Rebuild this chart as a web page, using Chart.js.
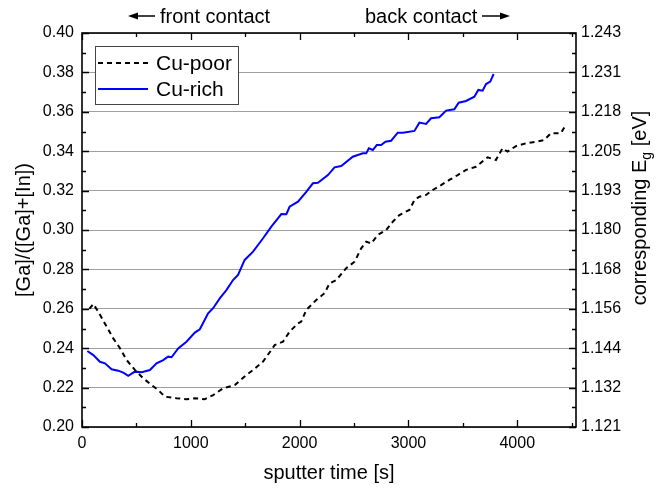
<!DOCTYPE html>
<html>
<head>
<meta charset="utf-8">
<script src="https://cdn.jsdelivr.net/npm/chart.js@4/dist/chart.umd.min.js"></script>
<style>
  html, body { margin: 0; padding: 0; background: #fff; }
  #c { display: block; }
</style>
</head>
<body>
<canvas id="c" width="664" height="488"></canvas>
<script>
// sputter time [s] and [Ga]/([Ga]+[In])
const poorTime = [67,104,150,226,287,349,410,486,563,639,700,761,868,960,1037,1128,1205,1296,1404,1511,1572,1664,1740,1771,1847,1908,1985,2015,2061,2153,2229,2275,2337,2428,2505,2566,2612,2658,2719,2795,2856,2917,3009,3055,3101,3162,3223,3300,3376,3453,3529,3621,3728,3804,3865,3911,3988,4079,4171,4248,4309,4401,4446];
const poorGGI = [0.260,0.2624,0.2585,0.251,0.245,0.240,0.234,0.229,0.2247,0.2213,0.2188,0.2154,0.2146,0.2141,0.2146,0.2141,0.2162,0.2196,0.2213,0.2264,0.2289,0.2332,0.2391,0.2416,0.2433,0.2484,0.2526,0.2535,0.2594,0.2645,0.2679,0.2729,0.2746,0.2806,0.2839,0.2907,0.2941,0.2932,0.2975,0.3000,0.3042,0.3076,0.3102,0.3152,0.3169,0.3178,0.3203,0.3228,0.3254,0.3279,0.3305,0.3321,0.3369,0.3355,0.3415,0.3398,0.3426,0.3440,0.3448,0.3457,0.3491,0.3491,0.3533];
const richTime = [49,104,165,211,272,333,379,425,486,548,624,685,746,792,823,884,960,1037,1083,1159,1205,1266,1327,1388,1434,1495,1572,1664,1740,1832,1878,1908,1985,2061,2122,2168,2260,2321,2382,2489,2581,2612,2636,2673,2709,2749,2789,2841,2902,2950,3055,3101,3162,3208,3284,3346,3422,3462,3529,3606,3642,3682,3713,3752,3783];
const richGGI = [0.2386,0.2365,0.2331,0.2323,0.2293,0.2286,0.2276,0.2260,0.2281,0.2278,0.2289,0.2323,0.2340,0.2357,0.2354,0.2399,0.2433,0.2479,0.2496,0.2577,0.2603,0.2653,0.2695,0.2746,0.2772,0.2848,0.2890,0.2958,0.3017,0.3081,0.3080,0.3118,0.3144,0.3194,0.3237,0.3240,0.3279,0.3318,0.3325,0.3372,0.3389,0.3389,0.3415,0.3406,0.3431,0.3431,0.3448,0.3453,0.3494,0.3494,0.3503,0.3545,0.3538,0.3567,0.3572,0.3606,0.3613,0.3646,0.3655,0.3677,0.3711,0.3707,0.3741,0.3753,0.3792];
const seriesNames = ['Cu-poor', 'Cu-rich'];
const timeTicks = [0, 1000, 2000, 3000, 4000];
// right axis labels (band gap), one per major left tick from bottom to top
const egLabels = ['1.121','1.132','1.144','1.156','1.168','1.180','1.193','1.205','1.218','1.231','1.243'];

const FONT = "'Liberation Sans', Arial, sans-serif";
const toPoints = (xs, ys) => xs.map((x, i) => ({ x, y: ys[i] }));
const isMajor = v => Math.round(v * 100) % 2 === 0;

const framePlugin = {
  id: 'frame',
  afterDraw(chart) {
    const { ctx, chartArea: a, scales } = chart;
    const xs = scales.x, ys = scales.y;
    ctx.save();
    ctx.strokeStyle = '#000';
    ctx.lineWidth = 1.6;
    ctx.strokeRect(a.left, a.top, a.right - a.left, a.bottom - a.top);
    // inward ticks on all four sides
    ctx.lineWidth = 1.3;
    ctx.beginPath();
    for (let t = 0; t <= xs.max; t += 500) {
      const px = Math.round(xs.getPixelForValue(t)) + 0.5;
      const len = t % 1000 === 0 ? 7 : 4;
      ctx.moveTo(px, a.bottom); ctx.lineTo(px, a.bottom - len);
      ctx.moveTo(px, a.top); ctx.lineTo(px, a.top + len);
    }
    for (let k = 20; k <= 40; k++) {
      const py = Math.round(ys.getPixelForValue(k / 100)) + 0.5;
      const len = k % 2 === 0 ? 7 : 4;
      ctx.moveTo(a.left, py); ctx.lineTo(a.left + len, py);
      ctx.moveTo(a.right, py); ctx.lineTo(a.right - len, py);
    }
    ctx.stroke();

    // legend box
    const lx = a.left + 13, ly = a.top + 13, lw = 143, lh = 58;
    ctx.fillStyle = '#fff';
    ctx.fillRect(lx, ly, lw, lh);
    ctx.strokeStyle = '#444';
    ctx.lineWidth = 1;
    ctx.strokeRect(lx + 0.5, ly + 0.5, lw, lh);
    chart.data.datasets.forEach((ds, i) => {
      const yy = ly + 17 + i * 26;
      ctx.strokeStyle = ds.borderColor;
      ctx.lineWidth = ds.borderWidth;
      ctx.setLineDash(ds.borderDash || []);
      ctx.beginPath();
      ctx.moveTo(lx + 3, yy); ctx.lineTo(lx + 53, yy);
      ctx.stroke();
      ctx.setLineDash([]);
      ctx.fillStyle = '#000';
      ctx.font = '21px ' + FONT;
      ctx.textBaseline = 'middle';
      ctx.textAlign = 'left';
      ctx.fillText(ds.label, lx + 61, yy + 1);
    });

    // contact annotations above the plot
    ctx.font = '20px ' + FONT;
    ctx.fillStyle = '#000';
    ctx.textBaseline = 'middle';
    const arrow = (x0, x1, y) => {
      const dir = Math.sign(x1 - x0);
      ctx.strokeStyle = '#000';
      ctx.lineWidth = 1.5;
      ctx.beginPath();
      ctx.moveTo(x0, y); ctx.lineTo(x1 - dir * 8, y);
      ctx.stroke();
      ctx.beginPath();
      ctx.moveTo(x1, y); ctx.lineTo(x1 - dir * 10, y - 3.5); ctx.lineTo(x1 - dir * 10, y + 3.5);
      ctx.closePath();
      ctx.fill();
    };
    arrow(155, 128, 16);
    ctx.textAlign = 'left';
    ctx.fillText('front contact', 160, 17);
    ctx.fillText('back contact', 365, 17);
    arrow(482, 510, 16);

    // right axis title with subscript
    ctx.translate(640, 208);
    ctx.rotate(-Math.PI / 2);
    const main = 'corresponding E', tail = ' [eV]';
    ctx.font = '20px ' + FONT;
    const w1 = ctx.measureText(main).width;
    const w3 = ctx.measureText(tail).width;
    ctx.font = '14px ' + FONT;
    const w2 = ctx.measureText('g').width;
    let x0 = -(w1 + w2 + w3) / 2;
    ctx.textAlign = 'left';
    ctx.font = '20px ' + FONT;
    ctx.fillText(main, x0, 0);
    ctx.font = '14px ' + FONT;
    ctx.fillText('g', x0 + w1, 7);
    ctx.font = '20px ' + FONT;
    ctx.fillText(tail, x0 + w1 + w2, 0);
    ctx.restore();
  }
};

new Chart(document.getElementById('c'), {
  type: 'line',
  data: {
    datasets: [
      {
        label: seriesNames[0],
        data: toPoints(poorTime, poorGGI),
        borderColor: '#000',
        borderWidth: 2,
        borderDash: [5, 4],
        pointRadius: 0,
        tension: 0,
        yAxisID: 'y'
      },
      {
        label: seriesNames[1],
        data: toPoints(richTime, richGGI),
        borderColor: '#0000ff',
        borderWidth: 2,
        pointRadius: 0,
        tension: 0,
        yAxisID: 'y'
      }
    ]
  },
  options: {
    responsive: false,
    animation: false,
    events: [],
    layout: { padding: { top: 33, left: 0, right: 0, bottom: 0 } },
    plugins: { legend: { display: false }, tooltip: { enabled: false } },
    scales: {
      x: {
        type: 'linear',
        min: 0,
        max: 4540,
        afterFit: s => { s.height = 61; },
        afterBuildTicks: s => { s.ticks = timeTicks.map(v => ({ value: v })); },
        grid: { display: false, drawTicks: false },
        border: { display: false },
        ticks: {
          maxRotation: 0,
          autoSkip: false,
          padding: 7,
          color: '#000',
          font: { family: FONT, size: 16 },
          callback: v => String(v)
        },
        title: {
          display: true,
          text: 'sputter time [s]',
          color: '#000',
          padding: { top: 0, bottom: 3 },
          font: { family: FONT, size: 20 }
        }
      },
      y: {
        type: 'linear',
        position: 'left',
        min: 0.2,
        max: 0.4,
        afterFit: s => { s.width = 82; },
        grid: {
          drawTicks: false,
          color: c => isMajor(c.tick.value) ? '#a0a0a0' : '#d4d4d4',
          lineWidth: 1
        },
        border: { display: false, dash: c => isMajor(c.tick.value) ? [] : [2, 2] },
        ticks: {
          stepSize: 0.01,
          padding: 8,
          color: '#000',
          font: { family: FONT, size: 16 },
          callback: v => isMajor(v) ? v.toFixed(2) : ''
        },
        title: {
          display: true,
          text: '[Ga]/([Ga]+[In])',
          color: '#000',
          padding: { top: 12, bottom: 0 },
          font: { family: FONT, size: 20 }
        }
      },
      y2: {
        type: 'linear',
        position: 'right',
        min: 0.2,
        max: 0.4,
        afterFit: s => { s.width = 88; },
        grid: { drawOnChartArea: false, drawTicks: false },
        border: { display: false },
        ticks: {
          stepSize: 0.02,
          padding: 5,
          color: '#000',
          font: { family: FONT, size: 16 },
          callback: (v, i) => egLabels[i]
        }
      }
    }
  },
  plugins: [framePlugin]
});
</script>
</body>
</html>
